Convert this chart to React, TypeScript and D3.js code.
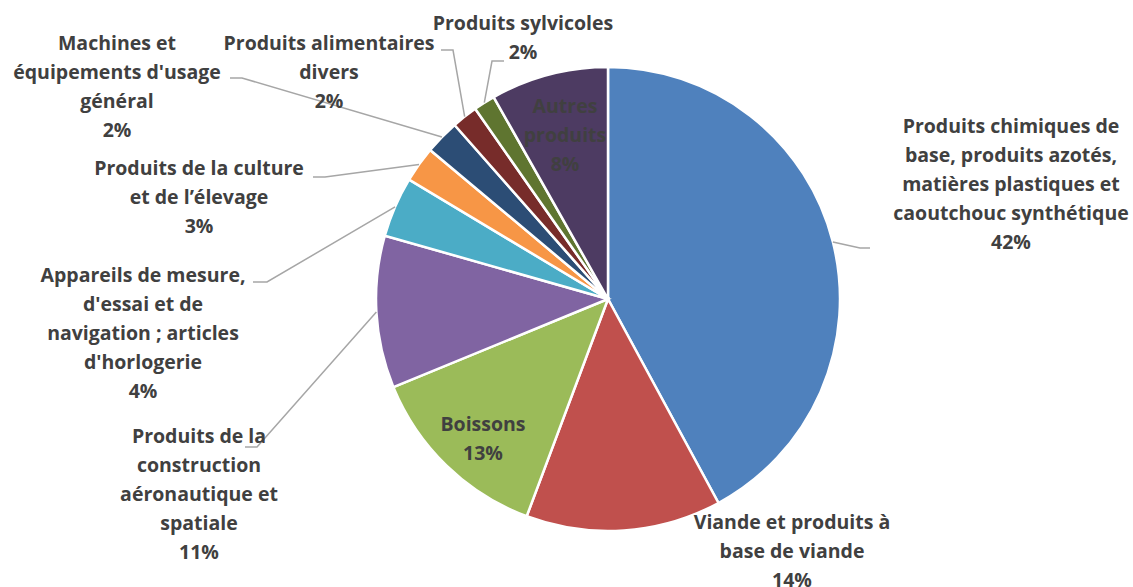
import React from "react";
import * as d3 from "d3";

// slices, clockwise from 12 o'clock
const categories = [
  "Produits chimiques de base, produits azotés, matières plastiques et caoutchouc synthétique",
  "Viande et produits à base de viande",
  "Boissons",
  "Produits de la construction aéronautique et spatiale",
  "Appareils de mesure, d'essai et de navigation ; articles d'horlogerie",
  "Produits de la culture et de l’élevage",
  "Machines et équipements d'usage général",
  "Produits alimentaires divers",
  "Produits sylvicoles",
  "Autres produits",
];
const shares = [42.1, 13.6, 13.1, 10.6, 4.2, 2.5, 2.4, 1.8, 1.5, 8.2];
const colors = [
  "#4F81BD", "#C0504D", "#9BBB59", "#8064A2", "#4BACC6",
  "#F79646", "#2C4D75", "#772C2A", "#5F7530", "#4D3B62",
];
// how each label wraps, as in the original
const labelLines = [
  ["Produits chimiques de", "base, produits azotés,", "matières plastiques et", "caoutchouc synthétique"],
  ["Viande et produits à", "base de viande"],
  ["Boissons"],
  ["Produits de la", "construction", "aéronautique et", "spatiale"],
  ["Appareils de mesure,", "d'essai et de", "navigation ; articles", "d'horlogerie"],
  ["Produits de la culture", "et de l’élevage"],
  ["Machines et", "équipements d'usage", "général"],
  ["Produits alimentaires", "divers"],
  ["Produits sylvicoles"],
  ["Autres", "produits"],
];

// label layout: text centre x, first baseline y, leader elbow + end (null = no leader)
const labelLayout = [
  { x: 1011, y: 133, leader: [[860, 248], [870, 248]] },
  { x: 792, y: 529, leader: null },
  { x: 483, y: 431, leader: null },
  { x: 199, y: 443, leader: [[257, 447], [245, 447]] },
  { x: 143, y: 282, leader: [[267, 282], [253, 282]] },
  { x: 199, y: 175, leader: [[325, 177], [313, 177]] },
  { x: 117, y: 50, leader: [[242, 78], [230, 78]] },
  { x: 329, y: 50, leader: [[453, 50], [441, 50]] },
  { x: 523, y: 30, leader: [[492, 61], [504, 61]] },
  { x: 565, y: 113, leader: null },
];

const W = 1133;
const H = 587;
const cx = 608;
const cy = 299;
const R = 232;
const lineH = 29;

export default function App() {
  const total = d3.sum(shares);
  const pie = d3.pie<number>().sort(null).value((d) => d);
  const arcs = pie(shares);
  const arc = d3.arc<d3.PieArcDatum<number>>().innerRadius(0).outerRadius(R);

  return (
    <svg
      width={W}
      height={H}
      style={{ position: "absolute", left: 0, top: 0, background: "#fff" }}
      fontFamily="'Open Sans', Lato, sans-serif"
    >
      <g transform={`translate(${cx},${cy})`}>
        {arcs.map((a, i) => (
          <path key={i} d={arc(a) || ""} fill={colors[i]} stroke="#fff" strokeWidth={2.5} />
        ))}
      </g>

      {arcs.map((a, i) => {
        const lay = labelLayout[i];
        if (!lay.leader) return null;
        const mid = (a.startAngle + a.endAngle) / 2;
        const sx = cx + R * Math.sin(mid);
        const sy = cy - R * Math.cos(mid);
        const pts = [[sx, sy], ...lay.leader] as [number, number][];
        return (
          <path
            key={"l" + i}
            d={d3.line()(pts) || ""}
            fill="none"
            stroke="#A6A6A6"
            strokeWidth={1.5}
          />
        );
      })}

      {categories.map((c, i) => {
        const lay = labelLayout[i];
        const pct = Math.round((shares[i] / total) * 100) + "%";
        const lines = [...labelLines[i], pct];
        return (
          <text
            key={"t" + i}
            x={lay.x}
            y={lay.y}
            textAnchor="middle"
            fontSize={19.5}
            fontWeight={700}
            fill="#404040"
          >
            <title>{c}</title>
            {lines.map((ln, j) => (
              <tspan key={j} x={lay.x} dy={j === 0 ? 0 : lineH}>
                {ln}
              </tspan>
            ))}
          </text>
        );
      })}
    </svg>
  );
}
